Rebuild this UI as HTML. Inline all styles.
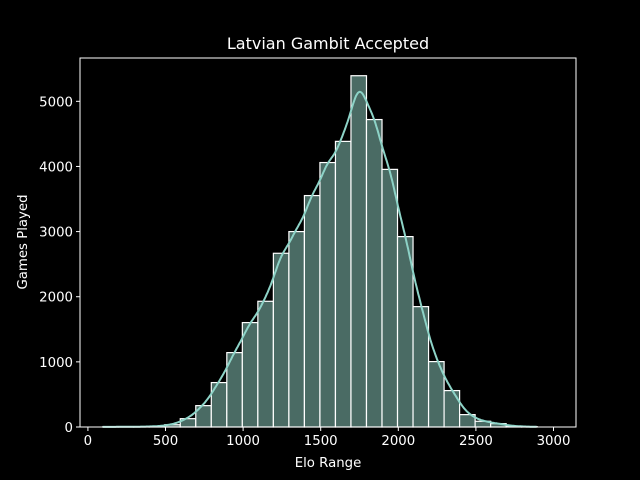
<!DOCTYPE html>
<html><head><meta charset="utf-8"><style>
html,body{margin:0;padding:0;background:#000;}
svg{display:block;font-family:"DejaVu Sans","Liberation Sans",sans-serif;}
</style></head><body>
<svg id="chart" width="640" height="480" viewBox="0 0 640 480">
<rect x="0" y="0" width="640" height="480" fill="#000"/>
<text x="328" y="49" fill="#fff" font-size="16" text-anchor="middle">Latvian Gambit Accepted</text>
<text x="328" y="467" fill="#fff" font-size="13.3" text-anchor="middle">Elo Range</text>
<text x="0" y="0" fill="#fff" font-size="13.3" text-anchor="middle" transform="translate(27,242) rotate(-90)">Games Played</text>
<g id="bars"></g>
<g id="kde"></g>
<g id="axes"></g>
</svg>
<script>
const binStart = 95;
const binWidth = 100;
const counts = [2,3,5,10,35,128,328,682,1142,1603,1930,2667,3000,3553,4060,4385,5393,4720,3955,2923,1848,1004,559,190,88,52,12,5];
const xTicks = [0,500,1000,1500,2000,2500,3000];
const yTicks = [0,1000,2000,3000,4000,5000];

const L=80,R=576,T=58,B=427;
const xMin=-51,xMax=3145,yMin=0,yMax=5665;
function sx(v){return L+(v-xMin)/(xMax-xMin)*(R-L);}
function sy(v){return B-(v-yMin)/(yMax-yMin)*(B-T);}
const NS='http://www.w3.org/2000/svg';
function mk(tag,attrs,parent){const e=document.createElementNS(NS,tag);for(const k in attrs)e.setAttribute(k,attrs[k]);parent.appendChild(e);return e;}

const bars=document.getElementById('bars');
counts.forEach((c,i)=>{
  const x0=sx(binStart+i*binWidth),x1=sx(binStart+(i+1)*binWidth);
  const r=mk('rect',{x:x0,y:sy(c),width:x1-x0,height:sy(0)-sy(c),fill:'#4a6b64',stroke:'#fff','stroke-width':1.2},bars);
  
  
});

const bw=58;
let d='';
for(let v=binStart;v<=binStart+counts.length*binWidth;v+=6){
  let s=0;
  counts.forEach((c,i)=>{const m=binStart+(i+0.5)*binWidth;const z=(v-m)/bw;s+=c*Math.exp(-0.5*z*z);});
  s=s*binWidth/(bw*Math.sqrt(2*Math.PI));
  d+=(d?'L':'M')+sx(v).toFixed(1)+','+sy(s).toFixed(1);
}
const kp=mk('path',{d:d,fill:'none',stroke:'#8dd3c7','stroke-width':2},document.getElementById('kde'));



const ax=document.getElementById('axes');
const fr=mk('rect',{x:L,y:T,width:R-L,height:B-T,fill:'none',stroke:'#fff','stroke-width':1},ax);


xTicks.forEach(t=>{
  const x=sx(t);
  mk('line',{x1:x,y1:B,x2:x,y2:B+4,stroke:'#fff'},ax);
  const tx=mk('text',{x:x,y:B+18,fill:'#fff','font-size':13.3,'text-anchor':'middle'},ax);
  tx.textContent=t;
  
  
});
yTicks.forEach(t=>{
  const y=sy(t);
  mk('line',{x1:L-4,y1:y,x2:L,y2:y,stroke:'#fff'},ax);
  const tx=mk('text',{x:L-7,y:y+5,fill:'#fff','font-size':13.3,'text-anchor':'end'},ax);
  tx.textContent=t;
  
  
});
</script>
</body></html>
